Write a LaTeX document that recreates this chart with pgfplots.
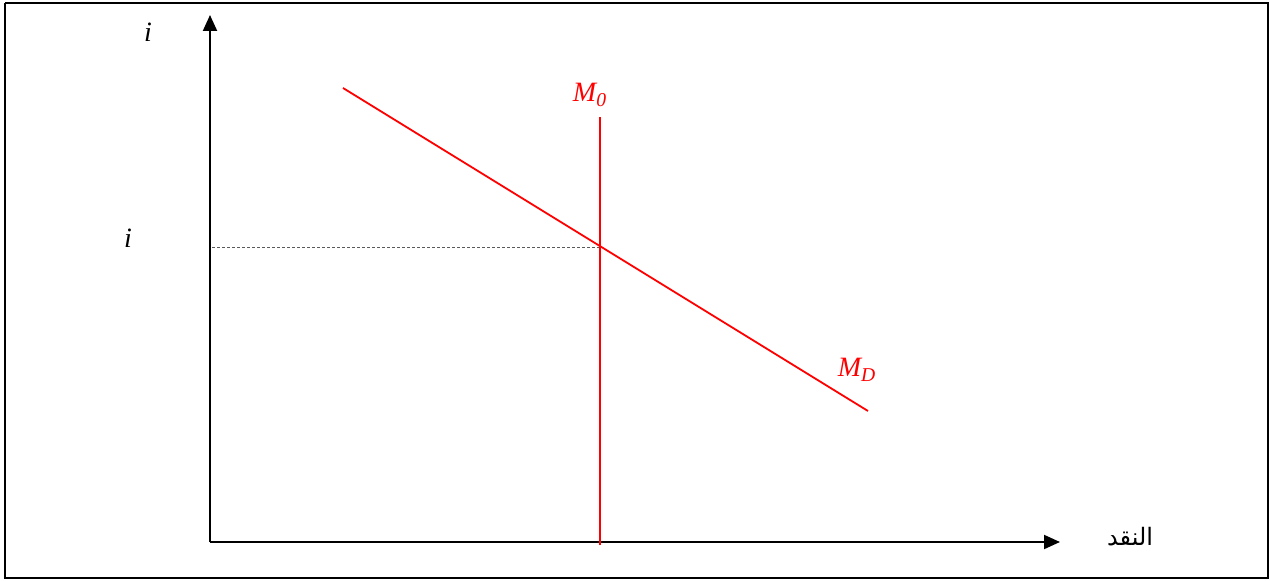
\documentclass[border=0pt]{standalone}
\usepackage{fontspec}
\setmainfont{Liberation Serif}
\newfontfamily\arabicfont[Script=Arabic]{DejaVu Sans}
\TeXXeTstate=1
\usepackage{pgfplots}
\pgfplotsset{compat=1.18}
\usetikzlibrary{arrows.meta}
\begin{document}
\begin{tikzpicture}
\begin{axis}[
  scale only axis, width=635pt, height=290pt,
  xmin=-210, xmax=1060, ymin=-38, ymax=542,
  hide axis, clip=false,
]
% invisible extent
\addplot[draw=none] coordinates {(-210,-38) (1060,542)};
% frame
\addplot[black, line width=1.2pt] coordinates {(-205,539) (1058,539) (1058,-36) (-205,-36) (-205,539)};
% axes
\addplot[black, line width=1pt, -{Triangle[length=8pt,width=7pt]}] coordinates {(0,0) (0,527)};
\addplot[black, line width=1pt, -{Triangle[length=8pt,width=7pt]}] coordinates {(0,0) (850,0)};
% dashed reference line
\addplot[gray!70!black, line width=0.5pt, dash pattern=on 1.5pt off 1pt] coordinates {(2,295) (390,295)};
% money supply
\addplot[red, line width=0.9pt] coordinates {(390,-3) (390,425)};
% money demand
\addplot[red, line width=0.9pt] coordinates {(133,454) (658,131)};
\node[font=\fontsize{14}{16}\selectfont\itshape] at (axis cs:-62,510) {i};
\node[font=\fontsize{14}{16}\selectfont\itshape] at (axis cs:-82,304) {i};
\node[red, font=\fontsize{14}{16}\selectfont\itshape] at (axis cs:380,447) {M\textsubscript{0}};
\node[red, font=\fontsize{14}{16}\selectfont\itshape] at (axis cs:647,172) {M\textsubscript{D}};
\node[font=\fontsize{12}{14}\selectfont] at (axis cs:920,5) {\arabicfont\beginR النقد\endR};
\end{axis}
\end{tikzpicture}
\end{document}
